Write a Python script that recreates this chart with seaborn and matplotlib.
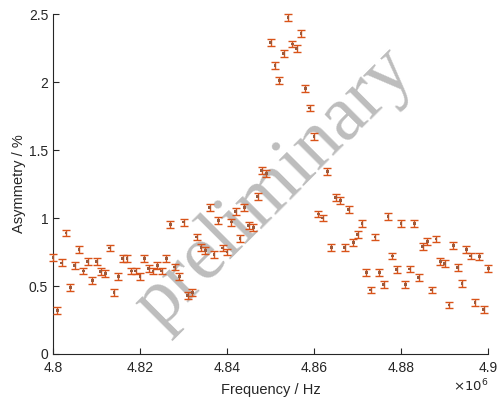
import numpy as np
import pandas as pd
import seaborn as sns
import matplotlib
matplotlib.use("Agg")
import matplotlib.pyplot as plt
from matplotlib.ticker import FuncFormatter

# frequency in MHz (one point per kHz) and measured asymmetry in %
freq_mhz = [4.800, 4.801, 4.802, 4.803, 4.804, 4.805, 4.806, 4.807, 4.808, 4.809,
            4.810, 4.811, 4.812, 4.813, 4.814, 4.815, 4.816, 4.817, 4.818, 4.819,
            4.820, 4.821, 4.822, 4.823, 4.824, 4.825, 4.826, 4.827, 4.828, 4.829,
            4.830, 4.831, 4.832, 4.833, 4.834, 4.835, 4.836, 4.837, 4.838, 4.839,
            4.840, 4.841, 4.842, 4.843, 4.844, 4.845, 4.846, 4.847, 4.848, 4.849,
            4.850, 4.851, 4.852, 4.853, 4.854, 4.855, 4.856, 4.857, 4.858, 4.859,
            4.860, 4.861, 4.862, 4.863, 4.864, 4.865, 4.866, 4.867, 4.868, 4.869,
            4.870, 4.871, 4.872, 4.873, 4.874, 4.875, 4.876, 4.877, 4.878, 4.879,
            4.880, 4.881, 4.882, 4.883, 4.884, 4.885, 4.886, 4.887, 4.888, 4.889,
            4.890, 4.891, 4.892, 4.893, 4.894, 4.895, 4.896, 4.897, 4.898, 4.899,
            4.900]
asym = [0.71, 0.32, 0.67, 0.89, 0.49, 0.65, 0.77, 0.61, 0.68, 0.54,
        0.68, 0.605, 0.59, 0.78, 0.45, 0.57, 0.70, 0.70, 0.61, 0.61,
        0.57, 0.70, 0.63, 0.61, 0.65, 0.61, 0.70, 0.95, 0.64, 0.57,
        0.97, 0.43, 0.455, 0.86, 0.785, 0.76, 1.075, 0.73, 0.98, 0.78,
        0.75, 0.97, 1.05, 0.85, 1.08, 0.945, 0.93, 1.16, 1.35, 1.325,
        2.29, 2.12, 2.01, 2.21, 2.475, 2.28, 2.245, 2.36, 1.95, 1.81,
        1.60, 1.03, 1.00, 1.34, 0.785, 1.15, 1.13, 0.785, 1.06, 0.82,
        0.88, 0.96, 0.60, 0.47, 0.86, 0.60, 0.51, 1.01, 0.72, 0.62,
        0.96, 0.51, 0.625, 0.96, 0.56, 0.79, 0.825, 0.47, 0.845, 0.68,
        0.665, 0.36, 0.80, 0.635, 0.52, 0.77, 0.72, 0.38, 0.715, 0.33,
        0.63]
asym_err = 0.025
x_ticks = [4.80, 4.82, 4.84, 4.86, 4.88, 4.90]
y_ticks = [0, 0.5, 1, 1.5, 2, 2.5]

df = pd.DataFrame({"freq": np.array(freq_mhz) * 1e6, "asym": asym})

sns.set_style("ticks", {"xtick.direction": "in", "ytick.direction": "in",
                        "axes.edgecolor": "#262626"})
plt.rcParams["font.family"] = ["Liberation Sans", "DejaVu Sans"]

fig = plt.figure(figsize=(4.99, 3.98), dpi=100)
ax = fig.add_axes([0.1062, 0.1106, 0.872, 0.854])

col = "#D95319"
ax.errorbar(df["freq"], df["asym"], yerr=asym_err, fmt="none", ecolor=col,
            elinewidth=1.0, capsize=2.7, capthick=1.0, clip_on=False, zorder=3)
sns.scatterplot(data=df, x="freq", y="asym", ax=ax, marker="s", s=4,
                color="#9C5A3C", edgecolor="none", zorder=4, clip_on=False)

ax.set_xlim(4.8e6, 4.9e6)
ax.set_ylim(0, 2.5)
ax.set_xticks([t * 1e6 for t in x_ticks])
ax.xaxis.set_major_formatter(FuncFormatter(lambda v, p: f"{v / 1e6:g}"))
ax.set_yticks(y_ticks)
ax.set_yticklabels([f"{t:g}" for t in y_ticks])
ax.tick_params(labelsize=10, length=4, width=0.8, colors="#262626")
ax.tick_params(axis="x", pad=5)
ax.set_xlabel("Frequency / Hz", fontsize=10.5, color="#262626", labelpad=6)
ax.set_ylabel("Asymmetry / %", fontsize=10.5, color="#262626", labelpad=2)
sns.despine(ax=ax)
for s in ["left", "bottom"]:
    ax.spines[s].set_linewidth(0.8)

ax.text(1.0, -0.093, r"$\times10^{6}$", transform=ax.transAxes, ha="right",
        va="center", fontsize=9.5, color="#262626")

# watermark
ax.text(0.51, 0.49, "preliminary", transform=ax.transAxes, ha="center",
        va="center", rotation=45, fontsize=56, color="#bdbdbd",
        family="Liberation Serif", zorder=1)

fig.savefig("out.png", dpi=100)
